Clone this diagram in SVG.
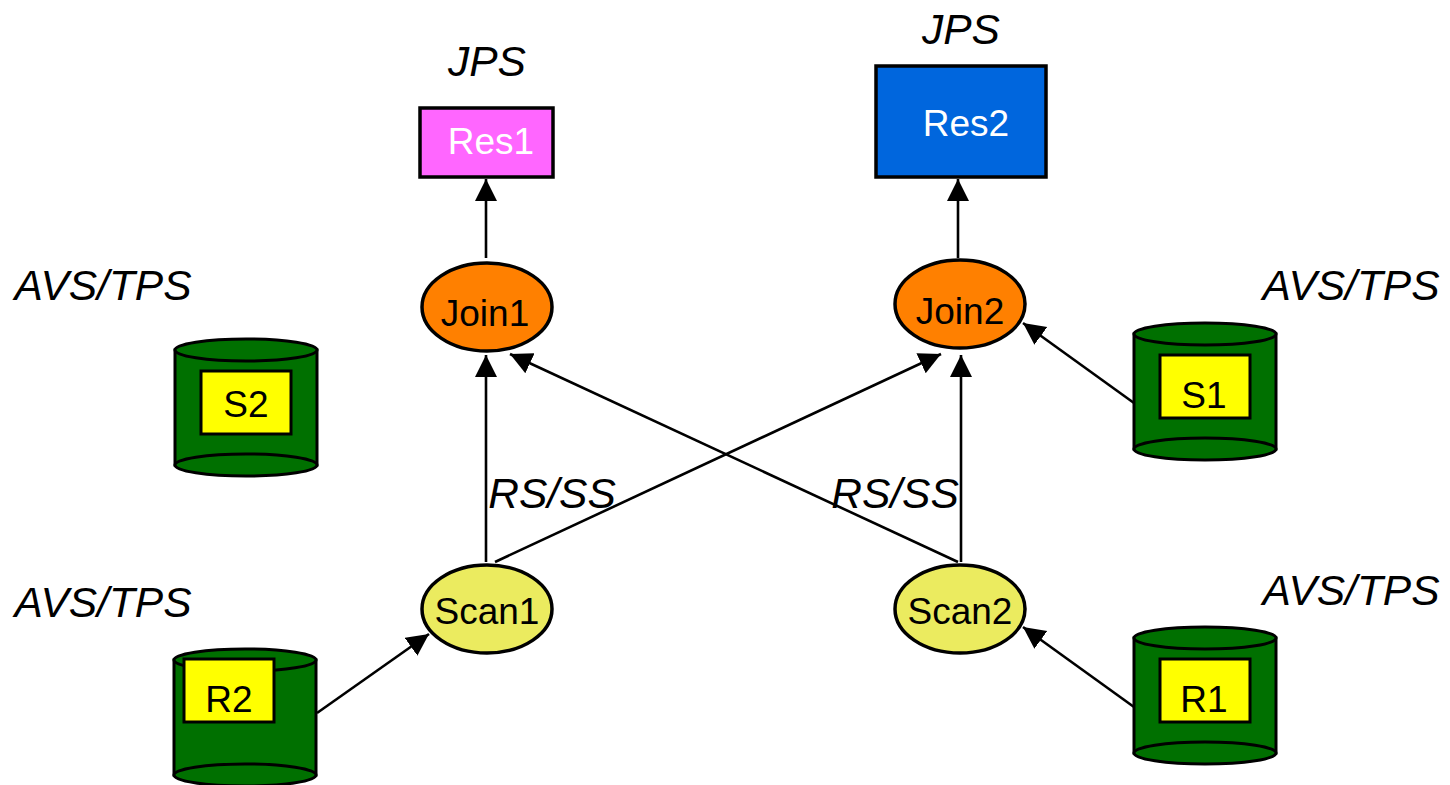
<svg xmlns="http://www.w3.org/2000/svg" width="1450" height="785" viewBox="0 0 1450 785">
<style>
text{font-family:"Liberation Sans",Arial,sans-serif;font-size:37px;fill:#000;text-anchor:middle}
.i{font-style:italic;font-size:42.5px}
.b{stroke:#000;stroke-width:3.5}
.c{fill:#007000;stroke:#000;stroke-width:3}
.y{fill:#ffff00;stroke:#000;stroke-width:3}
.l{stroke:#000;stroke-width:2.6;fill:none;marker-end:url(#a)}
</style>
<defs>
<marker id="a" markerUnits="userSpaceOnUse" markerWidth="24" markerHeight="24" refX="22" refY="11" orient="auto"><path d="M0 0L22 11L0 22Z" fill="#000"/></marker>
<g id="cyl"><path class="c" d="M0 11V126H142V11Z"/><ellipse class="c" cx="71" cy="126" rx="71" ry="11"/><ellipse class="c" cx="71" cy="11" rx="71" ry="11"/></g>
</defs>
<rect width="1450" height="785" fill="#fff"/>
<g id="connectors">
<path class="l" d="M486 258V179"/>
<path class="l" d="M958 258V179"/>
<path class="l" d="M486 562V355"/>
<path class="l" d="M961 562V355"/>
<path class="l" d="M495 562L941 354"/>
<path class="l" d="M958 562L510 354"/>
<path class="l" d="M1134 403L1023 323"/>
<path class="l" d="M1134 707L1023 627"/>
<path class="l" d="M317 713L429 634"/>
</g>
<g id="res1"><rect class="b" x="420" y="108" width="133" height="69" fill="#ff66ff"/><text x="491" y="154" style="fill:#fff">Res1</text></g>
<g id="res2"><rect class="b" x="876" y="66" width="170" height="111" fill="#0066dd"/><text x="966" y="136" style="fill:#fff">Res2</text></g>
<g id="join1"><ellipse class="b" cx="487" cy="307" rx="65" ry="44" fill="#ff8000"/><text x="485" y="326">Join1</text></g>
<g id="join2"><ellipse class="b" cx="960" cy="304" rx="65" ry="44" fill="#ff8000"/><text x="960" y="324">Join2</text></g>
<g id="scan1"><ellipse class="b" cx="487" cy="609" rx="65" ry="44" fill="#ebeb5f"/><text x="487" y="624">Scan1</text></g>
<g id="scan2"><ellipse class="b" cx="960" cy="609" rx="65" ry="44" fill="#ebeb5f"/><text x="960" y="624">Scan2</text></g>
<g id="s2"><use href="#cyl" x="175" y="339"/><rect class="y" x="201" y="371" width="90" height="63"/><text x="246" y="417">S2</text></g>
<g id="s1"><use href="#cyl" x="1134" y="323"/><rect class="y" x="1160" y="355" width="90" height="63"/><text x="1204" y="408">S1</text></g>
<g id="r2"><use href="#cyl" x="174" y="649"/><rect class="y" x="184" y="659" width="90" height="63"/><text x="229" y="712">R2</text></g>
<g id="r1"><use href="#cyl" x="1134" y="627"/><rect class="y" x="1160" y="659" width="90" height="63"/><text x="1204" y="712">R1</text></g>
<g id="labels">
<text class="i" x="487" y="76">JPS</text>
<text class="i" x="961" y="44">JPS</text>
<text class="i" x="103" y="300">AVS/TPS</text>
<text class="i" x="103" y="617">AVS/TPS</text>
<text class="i" x="1351" y="300">AVS/TPS</text>
<text class="i" x="1351" y="605">AVS/TPS</text>
<text class="i" x="552" y="508">RS/SS</text>
<text class="i" x="895" y="508">RS/SS</text>
</g>
</svg>
